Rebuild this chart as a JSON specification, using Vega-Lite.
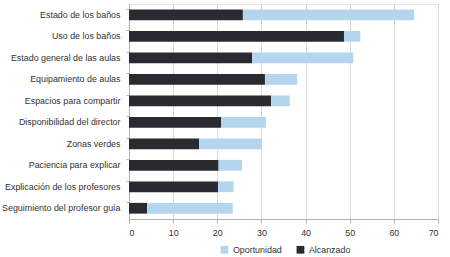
{
  "$schema": "https://vega.github.io/schema/vega-lite/v6.json",
  "width": 309,
  "height": 215,
  "autosize": {"type": "none"},
  "padding": {"left": 129, "top": 4, "right": 12, "bottom": 38},
  "background": "white",
  "config": {
    "font": "Liberation Sans",
    "view": {"stroke": "#e4e4e4", "strokeWidth": 1},
    "axis": {"labelFont": "Liberation Sans", "labelColor": "#333333", "labelFontSize": 8.9, "domainColor": "#b0b0b0", "tickColor": "#b0b0b0"}
  },
  "data": {
    "values": [
      {"categoria": "Estado de los baños", "serie": "Alcanzado", "valor": 25.8, "orden": 1},
      {"categoria": "Estado de los baños", "serie": "Oportunidad", "valor": 38.8, "orden": 2},
      {"categoria": "Uso de los baños", "serie": "Alcanzado", "valor": 48.7, "orden": 1},
      {"categoria": "Uso de los baños", "serie": "Oportunidad", "valor": 3.7, "orden": 2},
      {"categoria": "Estado general de las aulas", "serie": "Alcanzado", "valor": 27.9, "orden": 1},
      {"categoria": "Estado general de las aulas", "serie": "Oportunidad", "valor": 22.9, "orden": 2},
      {"categoria": "Equipamiento de aulas", "serie": "Alcanzado", "valor": 30.8, "orden": 1},
      {"categoria": "Equipamiento de aulas", "serie": "Oportunidad", "valor": 7.3, "orden": 2},
      {"categoria": "Espacios para compartir", "serie": "Alcanzado", "valor": 32.2, "orden": 1},
      {"categoria": "Espacios para compartir", "serie": "Oportunidad", "valor": 4.2, "orden": 2},
      {"categoria": "Disponibilidad del director", "serie": "Alcanzado", "valor": 20.9, "orden": 1},
      {"categoria": "Disponibilidad del director", "serie": "Oportunidad", "valor": 10.1, "orden": 2},
      {"categoria": "Zonas verdes", "serie": "Alcanzado", "valor": 15.9, "orden": 1},
      {"categoria": "Zonas verdes", "serie": "Oportunidad", "valor": 14.1, "orden": 2},
      {"categoria": "Paciencia para explicar", "serie": "Alcanzado", "valor": 20.3, "orden": 1},
      {"categoria": "Paciencia para explicar", "serie": "Oportunidad", "valor": 5.3, "orden": 2},
      {"categoria": "Explicación de los profesores", "serie": "Alcanzado", "valor": 20.2, "orden": 1},
      {"categoria": "Explicación de los profesores", "serie": "Oportunidad", "valor": 3.5, "orden": 2},
      {"categoria": "Seguimiento del profesor guía", "serie": "Alcanzado", "valor": 4.1, "orden": 1},
      {"categoria": "Seguimiento del profesor guía", "serie": "Oportunidad", "valor": 19.4, "orden": 2}
    ]
  },
  "mark": {"type": "bar"},
  "encoding": {
    "y": {
      "field": "categoria",
      "type": "nominal",
      "sort": null,
      "scale": {"paddingInner": 0.5, "paddingOuter": 0.25},
      "axis": {"title": null, "tickSize": 3, "bandPosition": 0, "labelPadding": 6, "grid": false}
    },
    "x": {
      "field": "valor",
      "type": "quantitative",
      "stack": "zero",
      "scale": {"domain": [0, 70], "nice": false},
      "axis": {"title": null, "values": [0, 10, 20, 30, 40, 50, 60, 70], "tickSize": 4, "labelPadding": 5, "gridColor": "#d9d9d9", "gridWidth": 1}
    },
    "color": {
      "field": "serie",
      "type": "nominal",
      "scale": {"domain": ["Oportunidad", "Alcanzado"], "range": ["#b4d5ee", "#2a2b30"]},
      "legend": {
        "title": null,
        "orient": "none",
        "direction": "horizontal",
        "legendX": 91,
        "legendY": 241,
        "symbolType": "square",
        "symbolSize": 60,
        "symbolStrokeWidth": 0,
        "labelFont": "Liberation Sans",
        "labelFontSize": 8.9,
        "labelColor": "#333333",
        "columnPadding": 14
      }
    },
    "order": {"field": "orden", "type": "quantitative"}
  }
}
